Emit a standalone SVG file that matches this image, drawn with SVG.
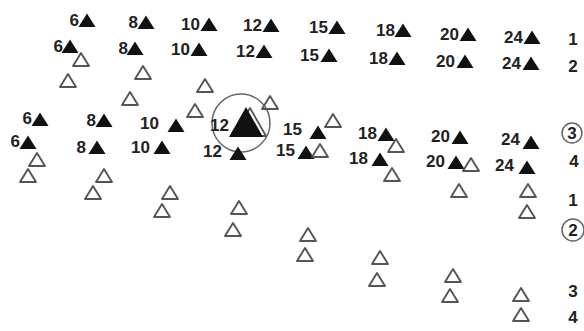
<svg xmlns="http://www.w3.org/2000/svg" xmlns:xlink="http://www.w3.org/1999/xlink" width="584" height="331" viewBox="0 0 584 331">
<style>
.n{font-family:"Liberation Sans",Arial,sans-serif;font-weight:bold;font-size:17px;fill:#222;text-anchor:end}
.r{font-family:"Liberation Sans",Arial,sans-serif;font-weight:bold;font-size:17px;fill:#222;text-anchor:middle}
.c{fill:none;stroke:#666;stroke-width:1.5}
</style>
<defs>
<path id="ft" d="M0,-13.5 L8.5,0 L-8.5,0 Z" fill="#111"/>
<path id="ot" d="M0,-13 L8,0 L-8,0 Z" fill="none" stroke="#555" stroke-width="1.9" stroke-linejoin="round"/>
</defs>
<rect width="584" height="331" fill="#fff"/>
<!-- row 1 -->
<g id="r1">
<g id="r1-6"><text class="n" x="79" y="26">6</text><use xlink:href="#ft" x="87" y="27"/></g>
<g id="r1-8"><text class="n" x="138" y="28">8</text><use xlink:href="#ft" x="146" y="29"/></g>
<g id="r1-10"><text class="n" x="200" y="30">10</text><use xlink:href="#ft" x="209" y="31"/></g>
<g id="r1-12"><text class="n" x="262" y="31">12</text><use xlink:href="#ft" x="271" y="32"/></g>
<g id="r1-15"><text class="n" x="328" y="33">15</text><use xlink:href="#ft" x="337" y="34"/></g>
<g id="r1-18"><text class="n" x="395" y="36">18</text><use xlink:href="#ft" x="403" y="37"/></g>
<g id="r1-20"><text class="n" x="459" y="40">20</text><use xlink:href="#ft" x="468" y="41"/></g>
<g id="r1-24"><text class="n" x="523" y="43">24</text><use xlink:href="#ft" x="532" y="44"/></g>
<text class="r" x="573" y="45">1</text>
</g>
<!-- row 2 -->
<g id="r2">
<g id="r2-6"><text class="n" x="63" y="52">6</text><use xlink:href="#ft" x="70" y="53"/></g>
<g id="r2-8"><text class="n" x="128" y="54">8</text><use xlink:href="#ft" x="135" y="55"/></g>
<g id="r2-10"><text class="n" x="190" y="55">10</text><use xlink:href="#ft" x="199" y="56"/></g>
<g id="r2-12"><text class="n" x="255" y="57">12</text><use xlink:href="#ft" x="264" y="58"/></g>
<g id="r2-15"><text class="n" x="319" y="61">15</text><use xlink:href="#ft" x="329" y="62"/></g>
<g id="r2-18"><text class="n" x="388" y="64">18</text><use xlink:href="#ft" x="397" y="65"/></g>
<g id="r2-20"><text class="n" x="455" y="67">20</text><use xlink:href="#ft" x="465" y="68"/></g>
<g id="r2-24"><text class="n" x="521" y="69">24</text><use xlink:href="#ft" x="531" y="70"/></g>
<text class="r" x="573" y="72">2</text>
</g>
<!-- row 3 -->
<g id="r3">
<g id="r3-6"><text class="n" x="32" y="124">6</text><use xlink:href="#ft" x="40" y="126"/></g>
<g id="r3-8"><text class="n" x="96" y="126">8</text><use xlink:href="#ft" x="104" y="127"/></g>
<g id="r3-10"><text class="n" x="159" y="129">10</text><use xlink:href="#ft" x="176" y="132"/></g>
<g id="r3-12">
<circle class="c" cx="241" cy="123" r="29"/>
<path d="M250,108 L266,136 L234,136 Z" fill="none" stroke="#555" stroke-width="1.8" stroke-linejoin="round"/>
<path d="M246,107 L263,137 L229,137 Z" fill="#111"/>
<text class="n" x="229" y="131">12</text>
</g>
<g id="r3-15"><text class="n" x="302" y="135">15</text><use xlink:href="#ft" x="318" y="139"/></g>
<g id="r3-18"><text class="n" x="377" y="139">18</text><use xlink:href="#ft" x="386" y="141"/></g>
<g id="r3-20"><text class="n" x="450" y="142">20</text><use xlink:href="#ft" x="460" y="144"/></g>
<g id="r3-24"><text class="n" x="520" y="145">24</text><use xlink:href="#ft" x="531" y="149"/></g>
<g id="r3-lbl"><circle class="c" cx="572" cy="133" r="10"/><text class="r" x="572" y="139">3</text></g>
</g>
<!-- row 4 -->
<g id="r4">
<g id="r4-6"><text class="n" x="20" y="147">6</text><use xlink:href="#ft" x="28" y="149"/></g>
<g id="r4-8"><text class="n" x="86" y="153">8</text><use xlink:href="#ft" x="97" y="154"/></g>
<g id="r4-10"><text class="n" x="150" y="153">10</text><use xlink:href="#ft" x="162" y="154"/></g>
<g id="r4-12"><text class="n" x="222" y="157">12</text><use xlink:href="#ft" x="238" y="160"/></g>
<g id="r4-15"><text class="n" x="295" y="156">15</text><use xlink:href="#ft" x="306" y="159"/></g>
<g id="r4-18"><text class="n" x="368" y="164">18</text><use xlink:href="#ft" x="380" y="166"/></g>
<g id="r4-20"><text class="n" x="445" y="167">20</text><use xlink:href="#ft" x="456" y="169"/></g>
<g id="r4-24"><text class="n" x="514" y="171">24</text><use xlink:href="#ft" x="527" y="174"/></g>
<text class="r" x="574" y="167">4</text>
</g>
<!-- open triangles -->
<g id="open">
<use xlink:href="#ot" x="81" y="66"/>
<use xlink:href="#ot" x="68" y="87"/>
<use xlink:href="#ot" x="143" y="79"/>
<use xlink:href="#ot" x="130" y="105"/>
<use xlink:href="#ot" x="205" y="92"/>
<use xlink:href="#ot" x="195" y="117"/>
<use xlink:href="#ot" x="270" y="109"/>
<use xlink:href="#ot" x="333" y="127"/>
<use xlink:href="#ot" x="396" y="152"/>
<use xlink:href="#ot" x="320" y="157"/>
<use xlink:href="#ot" x="392" y="181"/>
<use xlink:href="#ot" x="471" y="171"/>
<use xlink:href="#ot" x="459" y="197"/>
<use xlink:href="#ot" x="528" y="197"/>
<use xlink:href="#ot" x="527" y="218"/>
<use xlink:href="#ot" x="37" y="166"/>
<use xlink:href="#ot" x="28" y="182"/>
<use xlink:href="#ot" x="104" y="182"/>
<use xlink:href="#ot" x="93" y="199"/>
<use xlink:href="#ot" x="170" y="199"/>
<use xlink:href="#ot" x="162" y="217"/>
<use xlink:href="#ot" x="239" y="214"/>
<use xlink:href="#ot" x="233" y="236"/>
<use xlink:href="#ot" x="308" y="241"/>
<use xlink:href="#ot" x="305" y="261"/>
<use xlink:href="#ot" x="380" y="264"/>
<use xlink:href="#ot" x="377" y="286"/>
<use xlink:href="#ot" x="453" y="282"/>
<use xlink:href="#ot" x="450" y="302"/>
<use xlink:href="#ot" x="521" y="301"/>
<use xlink:href="#ot" x="521" y="321"/>
</g>
<!-- right labels -->
<g id="labels">
<text class="r" x="573" y="206">1</text>
<g id="lbl-2"><circle class="c" cx="573" cy="230" r="11"/><text class="r" x="573" y="236">2</text></g>
<text class="r" x="573" y="297">3</text>
<text class="r" x="573" y="323">4</text>
</g>
</svg>
